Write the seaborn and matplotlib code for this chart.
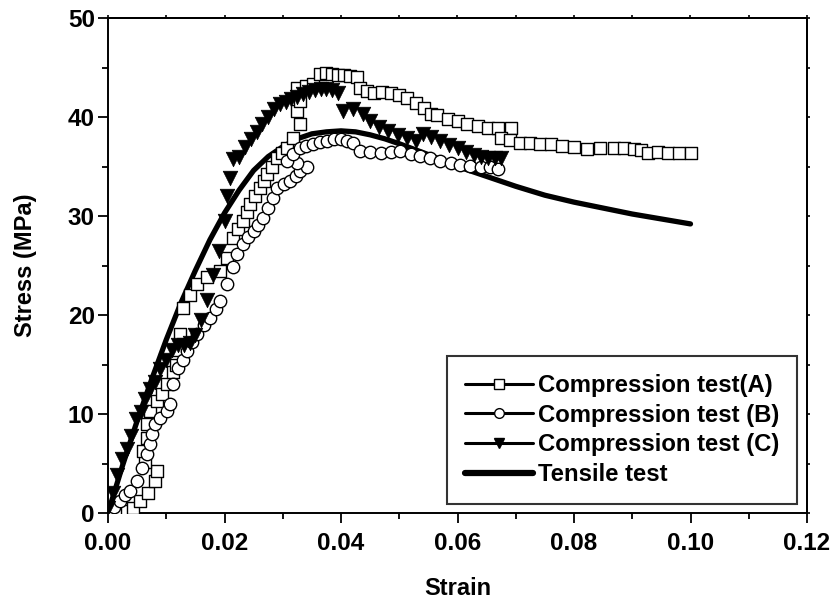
import numpy as np
import pandas as pd
import matplotlib
matplotlib.use("Agg")
import matplotlib.pyplot as plt
from matplotlib.lines import Line2D
from matplotlib.ticker import MultipleLocator, NullFormatter
import seaborn as sns

# ---- data ----
strain_A = [0.0010, 0.0020, 0.0033, 0.0043, 0.0055, 0.0069, 0.0081, 0.0084, 0.0064, 0.0060,
            0.0067, 0.0067, 0.0072, 0.0084, 0.0092, 0.0101, 0.0112, 0.0116, 0.0119, 0.0124,
            0.0129, 0.0140, 0.0153, 0.0170, 0.0193, 0.0205, 0.0215, 0.0224, 0.0232, 0.0238,
            0.0244, 0.0252, 0.0261, 0.0267, 0.0273, 0.0281, 0.0290, 0.0299, 0.0308, 0.0318,
            0.0330, 0.0325, 0.0330, 0.0325, 0.0340, 0.0352, 0.0364, 0.0375, 0.0385, 0.0395,
            0.0405, 0.0415, 0.0428, 0.0433, 0.0445, 0.0456, 0.0470, 0.0485, 0.0500, 0.0514,
            0.0528, 0.0542, 0.0554, 0.0565, 0.0583, 0.0600, 0.0617, 0.0635, 0.0652, 0.0670,
            0.0691, 0.0674, 0.0690, 0.0708, 0.0725, 0.0742, 0.0760, 0.0780, 0.0800, 0.0823,
            0.0845, 0.0868, 0.0885, 0.0903, 0.0915, 0.0927, 0.0945, 0.0961, 0.0980, 0.1000]
stress_A = [0.0, 0.1, 0.2, 0.5, 1.2, 2.0, 3.2, 4.2, 5.2, 6.3,
            7.6, 9.0, 10.3, 11.3, 12.0, 13.0, 14.2, 15.0, 16.5, 18.1,
            20.7, 22.0, 23.1, 23.8, 24.4, 25.8, 27.8, 28.7, 29.5, 30.4,
            31.2, 32.0, 32.8, 33.5, 34.2, 35.0, 35.9, 36.4, 36.9, 37.9,
            39.3, 40.6, 41.6, 42.9, 43.1, 43.3, 44.3, 44.4, 44.3, 44.2,
            44.2, 44.1, 44.0, 42.9, 42.6, 42.4, 42.5, 42.4, 42.2, 41.9,
            41.4, 40.9, 40.3, 40.2, 39.8, 39.6, 39.3, 39.1, 38.9, 38.9,
            38.9, 37.9, 37.7, 37.4, 37.4, 37.3, 37.3, 37.1, 37.0, 36.8,
            36.9, 36.9, 36.9, 36.8, 36.7, 36.4, 36.5, 36.4, 36.4, 36.4]

strain_B = [0.0000, 0.0010, 0.0020, 0.0030, 0.0038, 0.0050, 0.0058, 0.0067, 0.0072, 0.0075,
            0.0080, 0.0090, 0.0101, 0.0107, 0.0112, 0.0120, 0.0128, 0.0136, 0.0145, 0.0153,
            0.0165, 0.0175, 0.0185, 0.0193, 0.0205, 0.0215, 0.0222, 0.0232, 0.0241, 0.0250,
            0.0258, 0.0266, 0.0275, 0.0284, 0.0290, 0.0302, 0.0313, 0.0322, 0.0330, 0.0342,
            0.0325, 0.0308, 0.0318, 0.0330, 0.0340, 0.0352, 0.0364, 0.0376, 0.0388, 0.0400,
            0.0410, 0.0420, 0.0433, 0.0450, 0.0468, 0.0485, 0.0502, 0.0520, 0.0536, 0.0553,
            0.0570, 0.0588, 0.0605, 0.0622, 0.0640, 0.0655, 0.0669]
stress_B = [0.0, 0.6, 1.2, 1.8, 2.2, 3.2, 4.5, 6.0, 7.0, 8.0,
            9.0, 9.6, 10.3, 11.0, 13.0, 14.6, 15.5, 16.4, 17.3, 18.1,
            19.0, 19.7, 20.6, 21.4, 23.1, 24.8, 26.2, 27.2, 27.9, 28.5,
            29.1, 29.8, 30.8, 31.8, 32.8, 33.2, 33.5, 34.0, 34.5, 34.9,
            35.4, 35.6, 36.3, 36.9, 37.1, 37.3, 37.5, 37.6, 37.8, 37.8,
            37.6, 37.4, 36.6, 36.5, 36.4, 36.5, 36.6, 36.3, 36.1, 35.9,
            35.6, 35.4, 35.2, 35.1, 35.0, 34.9, 34.7]

strain_C = [0.0000, 0.0008, 0.0016, 0.0024, 0.0032, 0.0040, 0.0048, 0.0056, 0.0064, 0.0072,
            0.0080, 0.0090, 0.0100, 0.0110, 0.0120, 0.0130, 0.0140, 0.0150, 0.0160, 0.0170,
            0.0180, 0.0190, 0.0200, 0.0205, 0.0210, 0.0215, 0.0225, 0.0235, 0.0245, 0.0255,
            0.0265, 0.0275, 0.0285, 0.0295, 0.0305, 0.0315, 0.0325, 0.0335, 0.0345, 0.0355,
            0.0365, 0.0375, 0.0385, 0.0395, 0.0404, 0.0420, 0.0438, 0.0450, 0.0465, 0.0480,
            0.0497, 0.0514, 0.0528, 0.0540, 0.0555, 0.0570, 0.0585, 0.0600, 0.0614, 0.0628,
            0.0640, 0.0652, 0.0664, 0.0674]
stress_C = [0.5, 2.0, 3.8, 5.5, 6.5, 7.8, 9.5, 10.2, 11.5, 12.5,
            13.2, 14.5, 15.5, 16.5, 17.0, 17.0, 17.2, 18.0, 19.5, 21.5,
            24.0, 26.5, 29.5, 32.0, 33.8, 35.8, 36.0, 37.0, 37.8, 38.5,
            39.3, 40.0, 40.8, 41.3, 41.5, 41.8, 42.0, 42.3, 42.5, 42.7,
            42.8, 42.8, 42.7, 42.4, 40.6, 40.8, 40.3, 39.6, 39.0, 38.6,
            38.2, 37.9, 37.6, 38.3, 38.0, 37.6, 37.2, 36.9, 36.5, 36.2,
            36.0, 35.9, 35.9, 35.9]

strain_T = [0.000, 0.0025, 0.005, 0.0075, 0.010, 0.0125, 0.015, 0.0175, 0.020, 0.0225,
            0.025, 0.0275, 0.030, 0.0325, 0.035, 0.0375, 0.040, 0.0425, 0.045, 0.0475,
            0.050, 0.055, 0.060, 0.065, 0.070, 0.075, 0.080, 0.085, 0.090, 0.095, 0.100]
stress_T = [0.0, 4.8, 9.3, 13.5, 17.5, 21.2, 24.5, 27.6, 30.3, 32.6,
            34.6, 36.0, 37.0, 37.8, 38.3, 38.5, 38.6, 38.5, 38.2, 37.8,
            37.3, 36.2, 35.0, 34.0, 33.0, 32.1, 31.4, 30.8, 30.2, 29.7, 29.2]

labels = ["Compression test(A)", "Compression test (B)", "Compression test (C)", "Tensile test"]
x_ticks = [0.00, 0.02, 0.04, 0.06, 0.08, 0.10, 0.12]
y_ticks = [0, 10, 20, 30, 40, 50]

# ---- style ----
sns.set_style("ticks")
plt.rcParams['font.family'] = ['Liberation Sans', 'DejaVu Sans']
plt.rcParams['font.weight'] = 'bold'
for key in ['text.color', 'axes.labelcolor', 'xtick.color', 'ytick.color', 'axes.edgecolor']:
    plt.rcParams[key] = 'black'

fig = plt.figure(figsize=(8.34, 5.99), dpi=100)
ax = fig.add_axes([108/834, 1-513/599, 699/834, 495/599])

dfA = pd.DataFrame({"strain": strain_A, "stress": stress_A})
dfB = pd.DataFrame({"strain": strain_B, "stress": stress_B})
dfC = pd.DataFrame({"strain": strain_C, "stress": stress_C})
dfT = pd.DataFrame({"strain": strain_T, "stress": stress_T})

sns.lineplot(data=dfT, x="strain", y="stress", ax=ax, color="black", linewidth=3.8,
             sort=False, zorder=2)
sns.scatterplot(data=dfA, x="strain", y="stress", ax=ax, marker="s", s=75,
                facecolor="white", edgecolor="black", linewidth=1.0, zorder=3)
sns.scatterplot(data=dfB, x="strain", y="stress", ax=ax, marker="o", s=80,
                facecolor="white", edgecolor="black", linewidth=1.0, zorder=3)
sns.scatterplot(data=dfC, x="strain", y="stress", ax=ax, marker="v", s=110,
                color="black", edgecolor="black", linewidth=0.5, zorder=4)

ax.set_xlim(0, 0.12)
ax.set_ylim(0, 50)
ax.set_xticks(x_ticks)
ax.set_yticks(y_ticks)
ax.set_xticklabels([f"{v:.2f}" for v in x_ticks])
ax.set_yticklabels([str(v) for v in y_ticks])
ax.xaxis.set_minor_locator(MultipleLocator(0.01))
ax.yaxis.set_minor_locator(MultipleLocator(5))
ax.tick_params(axis='both', which='major', direction='out', length=7.5, width=1.3,
               labelsize=17.5, colors='black')
ax.tick_params(axis='x', which='major', pad=6)
ax.tick_params(axis='y', which='major', pad=2)
ax.tick_params(axis='both', which='minor', direction='out', length=4.5, width=1.3)
for lab in ax.get_xticklabels() + ax.get_yticklabels():
    lab.set_fontweight('bold')
for sp in ax.spines.values():
    sp.set_visible(True)
    sp.set_color('black')
    sp.set_linewidth(1.4)

# small ticks on the top and right edges
top = ax.secondary_xaxis('top')
top.set_xticks(x_ticks)
top.xaxis.set_minor_locator(MultipleLocator(0.01))
top.xaxis.set_major_formatter(NullFormatter())
top.tick_params(which='both', direction='out', length=2, width=1.2, colors='black')
top.spines['top'].set_linewidth(1.4)
right = ax.secondary_yaxis('right')
right.set_yticks(y_ticks)
right.yaxis.set_minor_locator(MultipleLocator(5))
right.yaxis.set_major_formatter(NullFormatter())
right.tick_params(which='both', direction='out', length=2, width=1.2, colors='black')
right.spines['right'].set_linewidth(1.4)

ax.set_xlabel("Strain", fontsize=17, fontweight='bold', labelpad=16)
ax.set_ylabel("Stress (MPa)", fontsize=17, fontweight='bold', labelpad=22)

handles = [
    Line2D([], [], color='black', linewidth=2.2, marker='s', markersize=6.5,
           markerfacecolor='white', markeredgecolor='black', markeredgewidth=1.0),
    Line2D([], [], color='black', linewidth=2.2, marker='o', markersize=7,
           markerfacecolor='white', markeredgecolor='black', markeredgewidth=1.0),
    Line2D([], [], color='black', linewidth=2.2, marker='v', markersize=7,
           markerfacecolor='black', markeredgecolor='black'),
    Line2D([], [], color='black', linewidth=4.5, solid_capstyle='round'),
]
leg = ax.legend(handles, labels, loc='lower right', bbox_to_anchor=(0.9857, 0.018),
                borderaxespad=0, frameon=True, fancybox=False, edgecolor='black',
                handlelength=2.85, handletextpad=0.2, labelspacing=0.28,
                prop={'size': 17.2, 'weight': 'bold'}, borderpad=0.75)
leg.get_frame().set_linewidth(1.5)

fig.savefig("out.png", dpi=100)
